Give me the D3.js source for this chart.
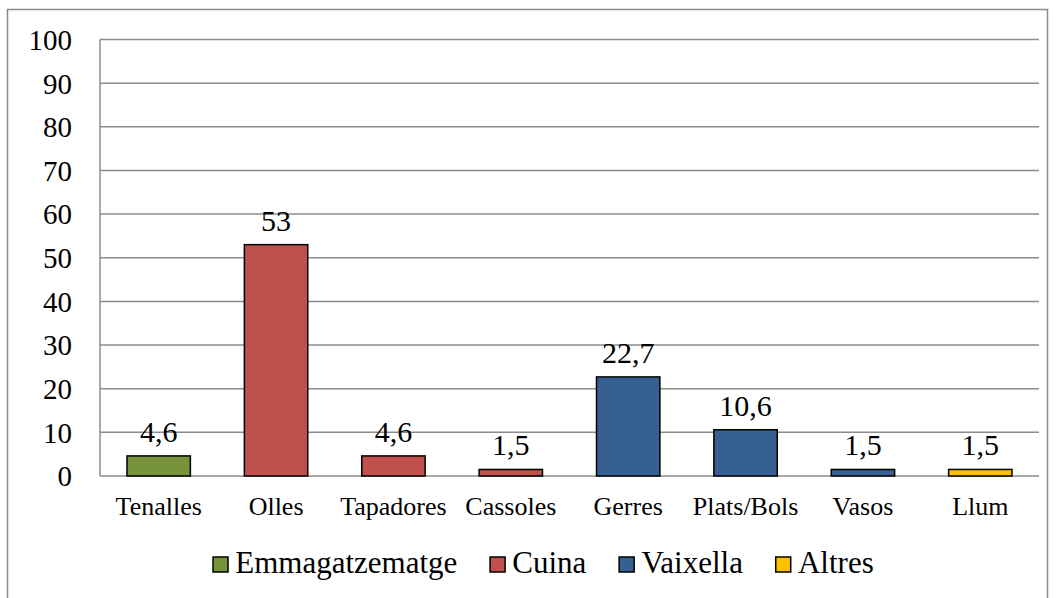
<!DOCTYPE html>
<html>
<head>
<meta charset="utf-8">
<script src="https://cdn.jsdelivr.net/npm/d3@7"></script>
</head>
<body style="margin:0;background:#fff">
<svg id="chart" width="1056" height="598"></svg>
<script>
// data
var categories = ["Tenalles", "Olles", "Tapadores", "Cassoles", "Gerres", "Plats/Bols", "Vasos", "Llum"];
var values = [4.6, 53, 4.6, 1.5, 22.7, 10.6, 1.5, 1.5];
var valueLabels = ["4,6", "53", "4,6", "1,5", "22,7", "10,6", "1,5", "1,5"];
var groupOf = ["Emmagatzematge", "Cuina", "Cuina", "Cuina", "Vaixella", "Vaixella", "Vaixella", "Altres"];
var groups = ["Emmagatzematge", "Cuina", "Vaixella", "Altres"];
var yTicks = [0, 10, 20, 30, 40, 50, 60, 70, 80, 90, 100];

var FONT = "'Liberation Serif', 'Times New Roman', serif";

var palette = {
    Emmagatzematge: "#77933C",
    Cuina: "#C0504D",
    Vaixella: "#376092",
    Altres: "#FFC000",
    grid: "#8c8c8c",
    border: "#8c8c8c"
};

var svg = d3.select("#chart");
var plot = {left: 100, right: 1039, top: 39.5, bottom: 476};

// large sizes sometimes come out in a sans fallback here; check the metrics
// and step down to the biggest size that still renders as the serif face
var probeText = "Emmagatzematge 0123456789";
function probeWidth(size) {
    var t = svg.append("text").attr("font-family", FONT).attr("font-size", size).text(probeText);
    var w = t.node().getComputedTextLength();
    t.remove();
    return w;
}
var refPerPx = probeWidth(24) / 24;
function safeSize(want) {
    for (var s = want; s > 24; s--) {
        if (Math.abs(probeWidth(s) / (refPerPx * s) - 1) < 0.03) return s;
    }
    return 24;
}
var sizeY = safeSize(29), sizeX = safeSize(26), sizeVal = safeSize(30), sizeLeg = safeSize(31);

// outer frame
svg.append("rect")
    .attr("x", 7.5).attr("y", 9.5)
    .attr("width", 1040).attr("height", 600)
    .attr("fill", "none")
    .attr("stroke", palette.border)
    .attr("stroke-width", 1.5);

var x = d3.scaleBand()
    .domain(categories)
    .range([plot.left, plot.right])
    .paddingInner(0.46)
    .paddingOuter(0.23);

var y = d3.scaleLinear()
    .domain([0, 100])
    .range([plot.bottom, plot.top]);

// gridlines
svg.append("g")
    .selectAll("line")
    .data(yTicks)
    .enter()
    .append("line")
    .attr("x1", plot.left).attr("x2", plot.right)
    .attr("y1", d => y(d)).attr("y2", d => y(d))
    .attr("stroke", palette.grid)
    .attr("stroke-width", 1.5);

// y axis line
svg.append("line")
    .attr("x1", plot.left).attr("x2", plot.left)
    .attr("y1", plot.top).attr("y2", plot.bottom)
    .attr("stroke", palette.grid)
    .attr("stroke-width", 1.5);

// y axis labels
var yAxis = svg.append("g")
    .attr("transform", `translate(${plot.left},0)`)
    .call(d3.axisLeft(y).tickValues(yTicks).tickSize(0).tickPadding(28));
yAxis.select(".domain").remove();
yAxis.selectAll("text")
    .attr("font-family", FONT)
    .attr("font-size", sizeY)
    .attr("fill", "#000")
    .attr("dy", "0.34em");

// x axis labels
var xAxis = svg.append("g")
    .attr("transform", `translate(0,${plot.bottom})`)
    .call(d3.axisBottom(x).tickSize(0).tickPadding(21));
xAxis.select(".domain").remove();
xAxis.selectAll("text")
    .attr("font-family", FONT)
    .attr("font-size", sizeX)
    .attr("fill", "#000");

// bars
svg.append("g")
    .selectAll("rect")
    .data(categories)
    .enter()
    .append("rect")
    .attr("x", d => x(d))
    .attr("y", (d, i) => y(values[i]))
    .attr("width", x.bandwidth())
    .attr("height", (d, i) => plot.bottom - y(values[i]))
    .attr("fill", (d, i) => palette[groupOf[i]])
    .attr("stroke", "#000")
    .attr("stroke-width", 1.5);

// value labels
svg.append("g")
    .selectAll("text")
    .data(categories)
    .enter()
    .append("text")
    .attr("x", d => x(d) + x.bandwidth() / 2)
    .attr("y", (d, i) => y(values[i]) - 14)
    .attr("text-anchor", "middle")
    .attr("font-family", FONT)
    .attr("font-size", sizeVal)
    .text((d, i) => valueLabels[i]);

// legend
var legend = svg.append("g");
var cursor = 0;
groups.forEach(function(g) {
    var item = legend.append("g").attr("transform", `translate(${cursor},0)`);
    item.append("rect")
        .attr("x", 0.75).attr("y", -16)
        .attr("width", 15).attr("height", 15)
        .attr("fill", palette[g])
        .attr("stroke", "#000")
        .attr("stroke-width", 1.5);
    var t = item.append("text")
        .attr("x", 23).attr("y", 0)
        .attr("font-family", FONT)
        .attr("font-size", sizeLeg)
        .text(g);
    cursor += 23 + t.node().getComputedTextLength() + 32;
});
var legendWidth = cursor - 32;
legend.attr("transform", `translate(${543 - legendWidth / 2},573)`);
</script>
</body>
</html>
